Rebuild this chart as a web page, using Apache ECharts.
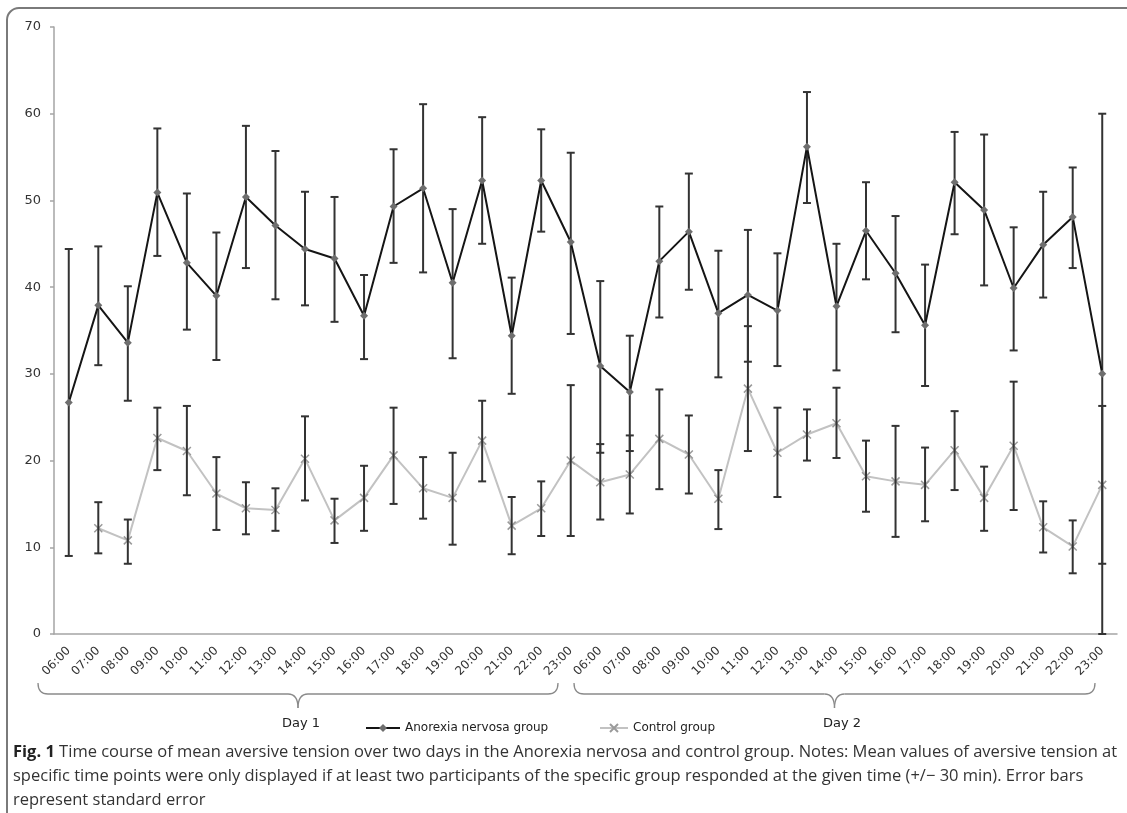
<!DOCTYPE html>
<html>
<head>
<meta charset="utf-8">
<script src="https://cdn.jsdelivr.net/npm/echarts@6/dist/echarts.min.js"></script>
<style>
html,body{margin:0;padding:0;background:#fff;}
#chart{width:1127px;height:813px;}
</style>
</head>
<body>
<div id="chart"></div>
<script>
// ---- data ----
const timeLabels = ['06:00','07:00','08:00','09:00','10:00','11:00','12:00','13:00','14:00','15:00','16:00','17:00','18:00','19:00','20:00','21:00','22:00','23:00'];
const dayLabels = ['Day 1', 'Day 2'];
const seriesNames = ['Anorexia nervosa group', 'Control group'];

const anMean  = [26.7, 37.9, 33.6, 50.9, 42.8, 39.0, 50.4, 47.1, 44.4, 43.3, 36.7, 49.3, 51.4, 40.5, 52.3, 34.4, 52.3, 45.2,
                 30.9, 27.9, 43.0, 46.4, 37.0, 39.1, 37.3, 56.2, 37.8, 46.5, 41.6, 35.6, 52.1, 48.9, 39.9, 44.9, 48.1, 30.0];
const anUpper = [44.4, 44.7, 40.1, 58.3, 50.8, 46.3, 58.6, 55.7, 51.0, 50.4, 41.4, 55.9, 61.1, 49.0, 59.6, 41.1, 58.2, 55.5,
                 40.7, 34.4, 49.3, 53.1, 44.2, 46.6, 43.9, 62.5, 45.0, 52.1, 48.2, 42.6, 57.9, 57.6, 46.9, 51.0, 53.8, 60.0];
const anLower = [9.0, 31.0, 26.9, 43.6, 35.1, 31.6, 42.2, 38.6, 37.9, 36.0, 31.7, 42.8, 41.7, 31.8, 45.0, 27.7, 46.4, 34.6,
                 20.9, 21.1, 36.5, 39.7, 29.6, 31.4, 30.9, 49.7, 30.4, 40.9, 34.8, 28.6, 46.1, 40.2, 32.7, 38.8, 42.2, 0];

const ctrlMean  = [null, 12.2, 10.8, 22.6, 21.1, 16.2, 14.5, 14.3, 20.2, 13.1, 15.7, 20.6, 16.8, 15.7, 22.3, 12.5, 14.5, 20.0,
                   17.5, 18.4, 22.5, 20.7, 15.6, 28.3, 20.9, 23.0, 24.3, 18.2, 17.6, 17.2, 21.2, 15.7, 21.7, 12.3, 10.1, 17.2];
const ctrlUpper = [null, 15.2, 13.2, 26.1, 26.3, 20.4, 17.5, 16.8, 25.1, 15.6, 19.4, 26.1, 20.4, 20.9, 26.9, 15.8, 17.6, 28.7,
                   21.9, 22.9, 28.2, 25.2, 18.9, 35.5, 26.1, 25.9, 28.4, 22.3, 24.0, 21.5, 25.7, 19.3, 29.1, 15.3, 13.1, 26.3];
const ctrlLower = [null, 9.3, 8.1, 18.9, 16.0, 12.0, 11.5, 11.9, 15.4, 10.5, 11.9, 15.0, 13.3, 10.3, 17.6, 9.2, 11.3, 11.3,
                   13.2, 13.9, 16.7, 16.2, 12.1, 21.1, 15.8, 20.0, 20.3, 14.1, 11.2, 13.0, 16.6, 11.9, 14.3, 9.4, 7.0, 8.1];

const captionLines = [
  ['Fig. 1', ' Time course of mean aversive tension over two days in the Anorexia nervosa and control group. Notes: Mean values of aversive tension at'],
  ['', 'specific time points were only displayed if at least two participants of the specific group responded at the given time (+/\u2212 30 min). Error bars'],
  ['', 'represent standard error']
];

// ---- build ----
const categories = timeLabels.concat(timeLabels);

function errData(lower, upper) {
  const out = [];
  for (let i = 0; i < lower.length; i++) {
    if (lower[i] == null || upper[i] == null) continue;
    out.push([i, lower[i], upper[i]]);
  }
  return out;
}

function renderErr(params, api) {
  const x = api.value(0);
  const lo = api.coord([x, api.value(1)]);
  const hi = api.coord([x, api.value(2)]);
  const cap = 4;
  const style = {stroke: '#333', lineWidth: 2};
  return {
    type: 'group',
    children: [
      {type: 'line', shape: {x1: lo[0], y1: lo[1], x2: hi[0], y2: hi[1]}, style: style},
      {type: 'line', shape: {x1: hi[0] - cap, y1: hi[1], x2: hi[0] + cap, y2: hi[1]}, style: style},
      {type: 'line', shape: {x1: lo[0] - cap, y1: lo[1], x2: lo[0] + cap, y2: lo[1]}, style: style}
    ]
  };
}

const chart = echarts.init(document.getElementById('chart'), null, {renderer: 'canvas'});

const gridLeft = 54, gridRight = 10, gridTop = 27, gridBottom = 179;

const xSymbol = 'path://M0,0L10,10M10,0L0,10';

const braceStyle = {stroke: '#8a8a8a', lineWidth: 1.3, fill: null};
function brace(x1, x2, yTop, yLine, yTip) {
  const xm = (x1 + x2) / 2, r = 10;
  return {
    type: 'group', silent: true,
    children: [
      {type: 'bezierCurve', shape: {x1: x1, y1: yTop, x2: x1 + r, y2: yLine, cpx1: x1, cpy1: yLine}, style: braceStyle},
      {type: 'line', shape: {x1: x1 + r, y1: yLine, x2: xm - r, y2: yLine}, style: braceStyle},
      {type: 'bezierCurve', shape: {x1: xm - r, y1: yLine, x2: xm, y2: yTip, cpx1: xm, cpy1: yLine}, style: braceStyle},
      {type: 'bezierCurve', shape: {x1: xm, y1: yTip, x2: xm + r, y2: yLine, cpx1: xm, cpy1: yLine}, style: braceStyle},
      {type: 'line', shape: {x1: xm + r, y1: yLine, x2: x2 - r, y2: yLine}, style: braceStyle},
      {type: 'bezierCurve', shape: {x1: x2 - r, y1: yLine, x2: x2, y2: yTop, cpx1: x2, cpy1: yLine}, style: braceStyle}
    ]
  };
}

const graphics = [
  {type: 'rect', shape: {x: 7, y: 8, width: 1300, height: 1000, r: 12}, style: {stroke: '#7a7a7a', lineWidth: 2, fill: null}, silent: true},
  brace(38, 558, 683, 694, 708),
  brace(574, 1095, 683, 694, 708),
  {type: 'text', x: 301, y: 724, style: {text: dayLabels[0], font: '13px "DejaVu Sans"', fill: '#222', align: 'center', verticalAlign: 'middle'}},
  {type: 'text', x: 842, y: 724, style: {text: dayLabels[1], font: '13px "DejaVu Sans"', fill: '#222', align: 'center', verticalAlign: 'middle'}}
];
const capY = [752, 776, 800];
captionLines.forEach(function (ln, k) {
  graphics.push({
    type: 'text', x: 13, y: capY[k],
    style: {
      text: (ln[0] ? '{b|' + ln[0] + '}' : '') + '{r|' + ln[1] + '}',
      verticalAlign: 'middle', align: 'left',
      rich: {
        b: {fontFamily: 'Open Sans', fontWeight: 'bold', fontSize: 16.5, fill: '#222'},
        r: {fontFamily: 'Open Sans', fontSize: 16.5, fill: '#333'}
      }
    }
  });
});

const option = {
  backgroundColor: '#fff',
  animation: false,
  grid: {left: gridLeft, right: gridRight, top: gridTop, bottom: gridBottom, containLabel: false},
  legend: [
    {data: [seriesNames[0]], left: 360, top: 717, itemWidth: 34, itemHeight: 10, itemGap: 5,
     textStyle: {fontFamily: 'DejaVu Sans', fontSize: 12, color: '#222'}},
    {data: [seriesNames[1]], left: 594, top: 717, itemWidth: 28, itemHeight: 10, itemGap: 5,
     textStyle: {fontFamily: 'DejaVu Sans', fontSize: 12, color: '#222'}}
  ],
  xAxis: {
    type: 'category',
    data: categories,
    boundaryGap: true,
    axisLine: {show: true, lineStyle: {color: '#a5a5a5', width: 1.5}},
    axisTick: {show: false},
    axisLabel: {interval: 0, rotate: 45, margin: 15, fontFamily: 'DejaVu Sans', fontSize: 12, color: '#333'},
    splitLine: {show: false}
  },
  yAxis: {
    type: 'value',
    min: 0, max: 70, interval: 10,
    axisLine: {show: true, lineStyle: {color: '#a5a5a5', width: 1.5}},
    axisTick: {show: true, length: 4, lineStyle: {color: '#a5a5a5', width: 1.5}},
    axisLabel: {margin: 13, fontFamily: 'DejaVu Sans', fontSize: 13, color: '#333'},
    splitLine: {show: false}
  },
  series: [
    {
      name: seriesNames[1], type: 'line', data: ctrlMean, z: 2,
      symbol: xSymbol, symbolSize: 8, showSymbol: true,
      lineStyle: {color: '#c2c2c2', width: 2},
      itemStyle: {color: '#9a9a9a', borderColor: '#9a9a9a', borderWidth: 1.5}
    },
    {
      name: 'ctrlErr', type: 'custom', renderItem: renderErr, data: errData(ctrlLower, ctrlUpper), z: 3,
      encode: {x: 0, y: [1, 2]}, silent: true
    },
    {
      name: 'anErr', type: 'custom', renderItem: renderErr, data: errData(anLower, anUpper), z: 3,
      encode: {x: 0, y: [1, 2]}, silent: true
    },
    {
      name: seriesNames[0], type: 'line', data: anMean, z: 4,
      symbol: 'diamond', symbolSize: 8, showSymbol: true,
      lineStyle: {color: '#151515', width: 2},
      itemStyle: {color: '#6e6e6e'}
    }
  ],
  graphic: graphics
};
chart.setOption(option);
</script>
</body>
</html>
